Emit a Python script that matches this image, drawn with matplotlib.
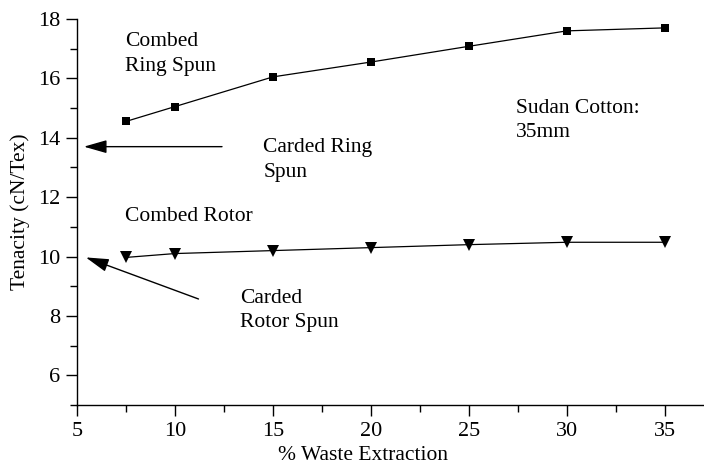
import matplotlib
matplotlib.use("Agg")
import matplotlib.pyplot as plt
from matplotlib.ticker import MultipleLocator

plt.rcParams['font.family'] = ['Liberation Serif', 'DejaVu Serif']

# data
waste = [7.5, 10, 15, 20, 25, 30, 35]
combed_ring = [14.55, 15.05, 16.05, 16.55, 17.08, 17.6, 17.7]
combed_rotor = [9.97, 10.1, 10.2, 10.3, 10.4, 10.48, 10.48]

carded_ring = 13.7    # arrow level
carded_rotor = 9.97

fig = plt.figure(figsize=(7.04, 4.63), dpi=100)
ax = fig.add_axes([0.1094, 0.1253, 0.8906, 0.8337])

ax.plot(waste, combed_ring, '-', color='black', lw=0.9,
        marker='s', markersize=6, markeredgewidth=0)
ax.plot(waste, combed_rotor, '-', color='black', lw=0.9,
        marker='v', markersize=9, markeredgewidth=0)

ax.set_xlim(5, 37)
ax.set_ylim(5, 18)
ax.xaxis.set_major_locator(MultipleLocator(5))
ax.xaxis.set_minor_locator(MultipleLocator(2.5))
ax.yaxis.set_major_locator(MultipleLocator(2))
ax.yaxis.set_minor_locator(MultipleLocator(1))
ax.set_yticks([6, 8, 10, 12, 14, 16, 18])

for s in ['top', 'right']:
    ax.spines[s].set_visible(False)
for s in ['left', 'bottom']:
    ax.spines[s].set_linewidth(1.0)
ax.spines['left'].set_bounds(5, 18)

ax.tick_params(which='major', direction='out', length=8, width=1.0,
               labelsize=16, pad=4)
ax.tick_params(which='minor', direction='out', length=5, width=1.0)

ax.set_xlabel('% Waste Extraction', fontsize=15.5)
ax.xaxis.set_label_coords(0.456, -0.105)
ax.set_ylabel('Tenacity (cN/Tex)', fontsize=15.5, labelpad=6)

arrow = dict(arrowstyle='-|>,head_length=1.4,head_width=0.4',
             color='black', lw=1.0, shrinkA=0, shrinkB=0)
ax.annotate('', xy=(5.35, carded_ring), xytext=(12.4, carded_ring),
            arrowprops=arrow)
ax.annotate('', xy=(5.45, carded_rotor), xytext=(11.2, 8.57),
            arrowprops=arrow)

txt = dict(fontsize=15.5, va='top', ha='left', linespacing=1.42)
ax.text(7.44, 17.55, 'Combed\nRing Spun', **txt)
ax.text(14.5, 14.0, 'Carded Ring\nSpun', **txt)
ax.text(7.44, 11.68, 'Combed Rotor', **txt)
ax.text(13.3, 8.92, 'Carded\nRotor Spun', **txt)
ax.text(27.4, 15.32, 'Sudan Cotton:\n35mm', **txt)

fig.savefig('out.png', dpi=100)
